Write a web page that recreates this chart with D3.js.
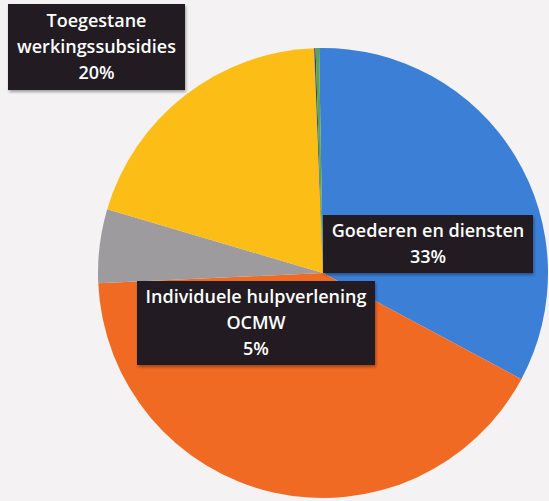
<!DOCTYPE html>
<html lang="nl">
<head>
<meta charset="UTF-8">
<title>Verdeling uitgaven</title>
<script src="https://d3js.org/d3.v7.min.js"></script>
<style>
    html, body { margin: 0; padding: 0; background: #f4f2f3; }
    svg { display: block; }
</style>
</head>
<body>
<div id="chart"></div>
<script>
    // slices, clockwise from the top (Excel order)
    const categories = ["Goederen en diensten", "Overige (oranje)", "Individuele hulpverlening OCMW",
                        "Toegestane werkingssubsidies", "Overige (donkerblauw)", "Overige (groen)"];
    const shares = [33.1, 41.45, 5.3, 19.8, 0.1, 0.25];
    const sliceColors = ["#3c7fd7", "#f06a24", "#9d9b9d", "#fdbd17", "#2c3f8e", "#5ba646"];

    // data labels shown on the chart
    const labelLines = [
        ["Goederen en diensten", "33%"],
        null,
        ["Individuele hulpverlening", "OCMW", "5%"],
        ["Toegestane", "werkingssubsidies", "20%"],
        null,
        null
    ];

    const width = 549, height = 501;
    const cx = 323, cy = 273, radius = 225;

    // label box placement (x, y, w, h) by slice index
    const labelBoxes = {
        0: { x: 323, y: 215, w: 210, h: 58 },
        2: { x: 137, y: 281, w: 238, h: 84 },
        3: { x: 8, y: 4, w: 177, h: 86 }
    };

    const svg = d3.select("#chart").append("svg")
        .attr("width", width)
        .attr("height", height);

    const defs = svg.append("defs");
    const shadow = defs.append("filter").attr("id", "shadow")
        .attr("x", "-10%").attr("y", "-10%").attr("width", "130%").attr("height", "140%");
    shadow.append("feDropShadow")
        .attr("dx", 1).attr("dy", 2).attr("stdDeviation", 1.5)
        .attr("flood-color", "#000").attr("flood-opacity", 0.35);

    svg.append("rect").attr("width", width).attr("height", height).attr("fill", "#f4f2f3");

    const data = categories.map((c, i) => ({ name: c, value: shares[i], color: sliceColors[i], lines: labelLines[i] }));

    const pie = d3.pie()
        .sort(null)
        .value(d => d.value)
        .startAngle(-1.0 * Math.PI / 180)
        .endAngle(359 * Math.PI / 180);

    const arc = d3.arc().innerRadius(0).outerRadius(radius);

    const g = svg.append("g").attr("transform", `translate(${cx},${cy})`);

    g.selectAll("path")
        .data(pie(data))
        .enter()
        .append("path")
        .attr("d", arc)
        .attr("fill", d => d.data.color);

    // labels
    const lineHeight = 26;
    const labels = svg.append("g")
        .selectAll("g")
        .data(data.map((d, i) => ({ ...d, box: labelBoxes[i] })).filter(d => d.lines))
        .enter()
        .append("g");

    labels.append("rect")
        .attr("x", d => d.box.x)
        .attr("y", d => d.box.y)
        .attr("width", d => d.box.w)
        .attr("height", d => d.box.h)
        .attr("fill", "#221e20")
        .attr("filter", "url(#shadow)");

    labels.each(function (d) {
        const n = d.lines.length;
        const mid = d.box.y + d.box.h / 2;
        d3.select(this).selectAll("text")
            .data(d.lines)
            .enter()
            .append("text")
            .attr("x", d.box.x + d.box.w / 2)
            .attr("y", (t, i) => mid + (i - (n - 1) / 2) * lineHeight)
            .attr("dy", "0.36em")
            .attr("text-anchor", "middle")
            .attr("fill", "#ffffff")
            .style("font-family", "'Open Sans', sans-serif")
            .style("font-size", "18px")
            .style("font-weight", 600)
            .text(t => t);
    });
</script>
</body>
</html>
